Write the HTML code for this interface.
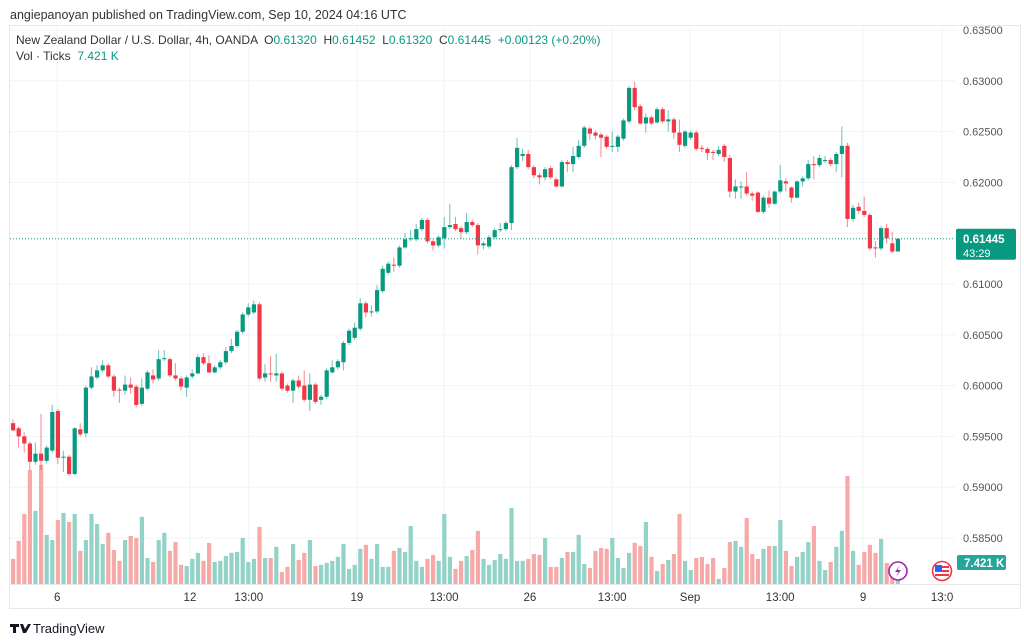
<!DOCTYPE html>
<html><head><meta charset="utf-8"><style>
html,body{margin:0;padding:0;background:#fff;width:1024px;height:643px;overflow:hidden}
body{font-family:"Liberation Sans","DejaVu Sans",sans-serif}
svg text{font-family:"Liberation Sans","DejaVu Sans",sans-serif}
</style></head><body>
<svg id="chart" width="1024" height="643" viewBox="0 0 1024 643" xmlns="http://www.w3.org/2000/svg">
<text x="10" y="19" font-size="12.5" fill="#333">angiepanoyan published on TradingView.com, Sep 10, 2024 04:16 UTC</text>
<rect x="9.5" y="25.5" width="1011" height="583" fill="none" stroke="#e6e8ee"/>
<g id="grid"></g>
<g id="vol"></g>
<g id="candles"></g>
<g id="axes"></g>
<text x="16" y="44" font-size="12" fill="#333" style="white-space:pre">New Zealand Dollar / U.S. Dollar, 4h, OANDA  O<tspan fill="#089981">0.61320</tspan>  H<tspan fill="#089981">0.61452</tspan>  L<tspan fill="#089981">0.61320</tspan>  C<tspan fill="#089981">0.61445</tspan>  <tspan fill="#089981">+0.00123 (+0.20%)</tspan></text>
<text x="16" y="60" font-size="12" fill="#333" style="white-space:pre">Vol · Ticks  <tspan fill="#089981">7.421 K</tspan></text>
<g><circle cx="898" cy="571" r="9" fill="#fff" stroke="#9c27b0" stroke-width="1.6"/><path d="M900 565 L895 572 L898.5 572 L896 577 L901 570 L897.5 570 Z" fill="#9c27b0"/></g>
<g><circle cx="942" cy="571" r="9.5" fill="#fff" stroke="#f23645" stroke-width="1.6"/><rect x="935" y="566" width="14" height="2" fill="#f23645"/><rect x="935" y="570" width="14" height="2" fill="#f23645"/><rect x="935" y="574" width="14" height="2" fill="#f23645"/><rect x="935" y="565" width="7" height="6" fill="#2962ff"/></g>
<g><path d="M10 624 h9 v3 h-3 v6 h-3 v-6 h-3z M20 624 h3 l2 5 l3 -5 h3 l-5 9 h-3z" fill="#131722"/><text x="33" y="633" font-size="13" fill="#131722">TradingView</text></g>
</svg>
<script>
// OHLC in price units
const opens=[0.5963,0.5958,0.5950,0.5943,0.5925,0.5933,0.5926,0.5936,0.5975,0.5929,0.5930,0.5913,0.5957,0.5953,0.5998,0.6008,0.6015,0.6020,0.6009,0.5996,0.5995,0.6001,0.5999,0.5982,0.5997,0.6010,0.6007,0.6026,0.6026,0.6010,0.6007,0.5998,0.6009,0.6012,0.6028,0.6022,0.6013,0.6018,0.6023,0.6034,0.6039,0.6053,0.6070,0.6072,0.6080,0.6008,0.6012,0.6010,0.6012,0.6000,0.5995,0.6005,0.6000,0.5986,0.6001,0.5986,0.5989,0.6013,0.6018,0.6023,0.6042,0.6047,0.6056,0.6081,0.6072,0.6073,0.6093,0.6111,0.6119,0.6118,0.6136,0.6144,0.6144,0.6154,0.6163,0.6142,0.6138,0.6145,0.6156,0.6159,0.6155,0.6151,0.6161,0.6158,0.6138,0.6137,0.6146,0.6153,0.6154,0.6160,0.6215,0.6226,0.6228,0.6215,0.6207,0.6205,0.6214,0.6203,0.6196,0.6220,0.6218,0.6225,0.6236,0.6253,0.6249,0.6247,0.6245,0.6235,0.6235,0.6243,0.6260,0.6293,0.6275,0.6258,0.6264,0.6259,0.6272,0.6260,0.6262,0.6249,0.6236,0.6244,0.6249,0.6234,0.6233,0.6230,0.6228,0.6236,0.6224,0.6191,0.6195,0.6196,0.6189,0.6190,0.6171,0.6185,0.6179,0.6191,0.6201,0.6195,0.6185,0.6201,0.6204,0.6218,0.6217,0.6221,0.6222,0.6218,0.6228,0.6236,0.6164,0.6176,0.6172,0.6168,0.6136,0.6135,0.6155,0.6140,0.6132];
const closes=[0.5956,0.5950,0.5943,0.5925,0.5933,0.5926,0.5939,0.5974,0.5929,0.5930,0.5913,0.5958,0.5952,0.5998,0.6009,0.6015,0.6020,0.6009,0.5995,0.5995,0.6001,0.5998,0.5981,0.5998,0.6013,0.6006,0.6026,0.6027,0.6010,0.6007,0.5999,0.6008,0.6012,0.6028,0.6022,0.6013,0.6018,0.6023,0.6034,0.6039,0.6053,0.6070,0.6077,0.6080,0.6007,0.6012,0.6011,0.6012,0.5997,0.5995,0.6005,0.5999,0.5986,0.6001,0.5984,0.5989,0.6015,0.6018,0.6024,0.6042,0.6054,0.6057,0.6081,0.6072,0.6073,0.6094,0.6115,0.6120,0.6118,0.6136,0.6144,0.6145,0.6154,0.6163,0.6142,0.6138,0.6146,0.6156,0.6158,0.6154,0.6151,0.6161,0.6158,0.6138,0.6140,0.6146,0.6153,0.6154,0.6160,0.6215,0.6234,0.6228,0.6215,0.6207,0.6205,0.6213,0.6205,0.6196,0.6220,0.6218,0.6226,0.6236,0.6254,0.6248,0.6246,0.6244,0.6235,0.6236,0.6245,0.6261,0.6293,0.6274,0.6258,0.6264,0.6258,0.6272,0.6260,0.6262,0.6249,0.6237,0.6250,0.6249,0.6233,0.6233,0.6229,0.6229,0.6232,0.6225,0.6191,0.6196,0.6196,0.6189,0.6187,0.6171,0.6185,0.6179,0.6191,0.6202,0.6199,0.6185,0.6201,0.6204,0.6218,0.6217,0.6224,0.6222,0.6218,0.6228,0.6236,0.6164,0.6175,0.6172,0.6168,0.6135,0.6135,0.6155,0.6145,0.6132,0.61445];
const highs=[0.5967,0.5960,0.5954,0.5945,0.5944,0.5972,0.5941,0.5981,0.5977,0.5936,0.5932,0.5959,0.5963,0.6000,0.6018,0.6020,0.6025,0.6022,0.6011,0.5998,0.6010,0.6008,0.6001,0.6007,0.6015,0.6016,0.6035,0.6035,0.6028,0.6022,0.6009,0.6010,0.6016,0.6031,0.6032,0.6030,0.6020,0.6025,0.6038,0.6046,0.6055,0.6072,0.6081,0.6084,0.6082,0.6021,0.6029,0.6031,0.6014,0.6002,0.6007,0.6010,0.6015,0.6012,0.6003,0.5991,0.6017,0.6025,0.6026,0.6044,0.6056,0.6062,0.6086,0.6083,0.6079,0.6099,0.6118,0.6122,0.6126,0.6138,0.6150,0.6153,0.6159,0.6165,0.6165,0.6144,0.6148,0.6166,0.6179,0.6166,0.6157,0.6170,0.6163,0.6160,0.6142,0.6148,0.6155,0.6160,0.6162,0.6217,0.6244,0.6233,0.6232,0.6217,0.6209,0.6215,0.6216,0.6205,0.6222,0.6222,0.6235,0.6242,0.6256,0.6255,0.6251,0.6249,0.6247,0.6250,0.6247,0.6263,0.6295,0.6299,0.6277,0.6268,0.6266,0.6274,0.6274,0.6271,0.6264,0.6262,0.6252,0.6251,0.6251,0.6237,0.6235,0.6232,0.6236,0.6238,0.6227,0.6203,0.6201,0.6210,0.6191,0.6191,0.6187,0.6192,0.6192,0.6217,0.6204,0.6196,0.6202,0.6206,0.6222,0.6226,0.6227,0.6226,0.6224,0.6230,0.6255,0.6239,0.6178,0.6180,0.6186,0.6170,0.6142,0.6157,0.6159,0.6151,0.61452];
const lows=[0.5955,0.5939,0.5934,0.5917,0.5922,0.5917,0.5924,0.5934,0.5923,0.5915,0.5911,0.5912,0.5950,0.5949,0.5996,0.6006,0.6013,0.6007,0.5989,0.5983,0.5991,0.5992,0.5979,0.5980,0.5995,0.6002,0.6005,0.6024,0.6008,0.6005,0.5995,0.5989,0.6007,0.6011,0.6020,0.6012,0.6012,0.6016,0.6021,0.6032,0.6037,0.6051,0.6068,0.6070,0.6005,0.6004,0.6004,0.6004,0.5995,0.5993,0.5983,0.5997,0.5984,0.5975,0.5982,0.5981,0.5987,0.6012,0.6016,0.6015,0.6040,0.6045,0.6054,0.6067,0.6068,0.6071,0.6091,0.6109,0.6112,0.6116,0.6135,0.6142,0.6142,0.6152,0.6140,0.6133,0.6136,0.6135,0.6154,0.6152,0.6144,0.6149,0.6156,0.6129,0.6134,0.6135,0.6144,0.6151,0.6152,0.6153,0.6213,0.6221,0.6213,0.6204,0.6198,0.6202,0.6203,0.6195,0.6195,0.6210,0.6210,0.6223,0.6234,0.6242,0.6242,0.6225,0.6233,0.6230,0.6230,0.6241,0.6258,0.6271,0.6257,0.6249,0.6256,0.6258,0.6258,0.6250,0.6243,0.6230,0.6234,0.6242,0.6231,0.6230,0.6222,0.6222,0.6226,0.6220,0.6185,0.6184,0.6184,0.6187,0.6182,0.6170,0.6169,0.6175,0.6178,0.6189,0.6191,0.6180,0.6184,0.6196,0.6202,0.6203,0.6215,0.6219,0.6216,0.6210,0.6205,0.6156,0.6161,0.6169,0.6166,0.6133,0.6126,0.6133,0.6140,0.6130,0.6132];
// volume in K ticks
const volumes=[8.8,15.1,24.5,39.9,25.6,41.7,17.2,15.4,22.4,24.9,21.7,24.5,11.6,15.4,24.5,21,14,17.9,11.9,8.1,15.4,16.8,16.1,23.5,9.1,7.7,15.4,17.9,11.6,14.7,6.7,6.3,8.8,10.9,8.1,14.4,7.7,8.1,9.8,10.9,11.2,16.1,7.7,8.8,20,9.1,9.1,13,4.2,6,14,8.4,10.9,15.4,
6.3,6.7,7.4,8.1,9.5,14,5.3,6.7,12.3,13.7,8.8,14,6,6,11.6,12.6,11.2,20.3,8.1,6,8.8,10.2,8.1,24.5,9.5,5.3,8.1,9.8,11.9,18.6,8.8,6.7,8.4,10.5,8.8,26.6,8.1,8.1,8.8,10.5,10.2,16.1,6,6,9.1,11.2,11.2,17.2,7,5.6,11.6,12.6,12.3,
16.1,9.1,5.6,10.9,14.4,13.3,21.7,9.5,4.6,7,8.4,10.5,24.5,8.1,4.9,9.1,9.5,7,9.1,1.8,5.6,14.7,15.1,13,23.1,10.5,8.8,12.3,13.3,13.3,22.4,11.6,6.3,9.5,11.2,14.7,20.3,8.1,4.9,7.7,13,18.6,37.8,11.6,6.7,11.2,13.7,10.9,15.8,7.4,4.9,7.421];
const priceTicks=[0.635,0.630,0.625,0.620,0.615,0.610,0.605,0.600,0.595,0.590,0.585];
const timeLabels=["6","12","13:00","19","13:00","26","13:00","Sep","13:00","9","13:0"];
const timeIdx=[7.9,31.6,42.1,61.4,77,92.3,107,120.9,137,151.8,165.9];
const lastPrice=0.61445;

const NS="http://www.w3.org/2000/svg";
const X0=13, STEP=5.6, PTOP=0.635, YTOP=30, PXPER=50.8/0.005, VBASE=584, VPX=2.857;
const xs=i=>X0+STEP*i;
const ys=p=>YTOP+(PTOP-p)*PXPER;
const vh=v=>v*VPX;
function mk(tag,attrs,parent){const e=document.createElementNS(NS,tag);for(const k in attrs)e.setAttribute(k,attrs[k]);parent.appendChild(e);return e;}
const grid=document.getElementById('grid'),vol=document.getElementById('vol'),cg=document.getElementById('candles'),ax=document.getElementById('axes');
priceTicks.forEach(p=>{const l=mk('line',{x1:10,x2:955,y1:ys(p),y2:ys(p),stroke:'#f0f3fa'},grid);


const t=mk('text',{x:963,y:ys(p)+4,'font-size':11,fill:'#555'},ax);t.textContent=p.toFixed(5);

});
timeLabels.forEach((s,k)=>{const x=xs(timeIdx[k]);const l=mk('line',{x1:x,x2:x,y1:26,y2:584,stroke:'#f0f3fa'},grid);


const t=mk('text',{x:x,y:601,'font-size':11.5,fill:'#333','text-anchor':'middle'},ax);t.textContent=s;

});
mk('line',{x1:10,x2:1020,y1:584.5,y2:584.5,stroke:'#e6e8ee'},ax);
volumes.forEach((v,i)=>{const up=closes[i]>=opens[i];const h=vh(v);const r=mk('rect',{x:xs(i)-2,y:VBASE-h,width:4.2,height:h,fill:up?'#92d2c7':'#f7a9a8'},vol);

});
opens.forEach((o,i)=>{const c=closes[i],up=c>=o,col=up?'#089981':'#f23645',x=xs(i);
const w=mk('line',{x1:x,x2:x,y1:ys(highs[i]),y2:ys(lows[i]),stroke:col,'stroke-width':1,'stroke-opacity':0.6},cg);


const top=ys(Math.max(o,c)),bh=Math.max(1,ys(Math.min(o,c))-top);
const b=mk('rect',{x:x-2,y:top,width:4.2,height:bh,fill:col},cg);

});
const ly=ys(lastPrice);
const dl=mk('line',{x1:10,x2:955,y1:ly,y2:ly,stroke:'#089981','stroke-dasharray':'1 2','stroke-width':1},ax);


const pb=mk('rect',{x:956,y:ly-10,width:60,height:31,rx:2,fill:'#089981'},ax);


const pt=mk('text',{x:963,y:ly+4,'font-size':11.5,'font-weight':'bold',fill:'#fff'},ax);pt.textContent=lastPrice.toFixed(5);


const ct=mk('text',{x:963,y:ly+18,'font-size':11,fill:'#fff'},ax);ct.textContent='43:29';


const vb=mk('rect',{x:957,y:555,width:49,height:15,rx:2,fill:'#26a69a'},ax);


const vt=mk('text',{x:964,y:567,'font-size':11.5,'font-weight':'bold',fill:'#fff'},ax);vt.textContent='7.421 K';


</script>
</body></html>
